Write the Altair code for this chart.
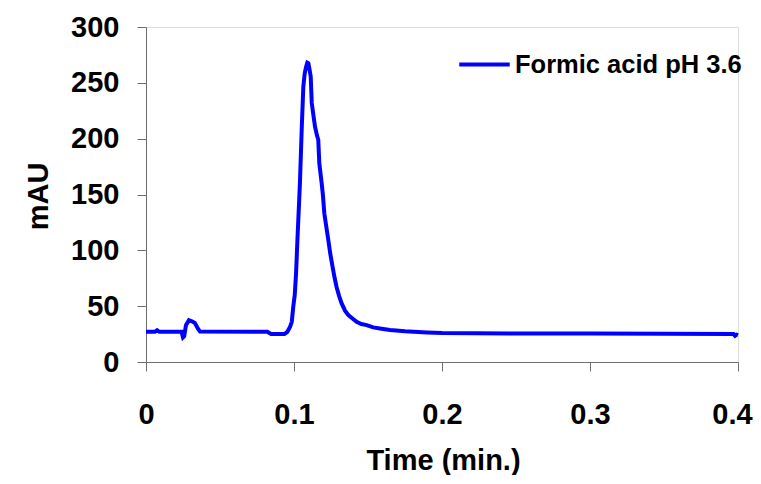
import altair as alt
import pandas as pd

series_name = "Formic acid pH 3.6"

time_min = [0.000, 0.006, 0.0075, 0.009, 0.024, 0.0250, 0.0258, 0.027, 0.029, 0.031,
            0.033, 0.035, 0.0365, 0.082, 0.0845, 0.0935, 0.0955, 0.0973, 0.0985, 0.0995,
            0.1005, 0.1014, 0.1023, 0.1030, 0.1040, 0.1052, 0.1063, 0.1072, 0.1081, 0.1090,
            0.1097, 0.1105, 0.1113, 0.1120, 0.1130, 0.1142, 0.1155, 0.1164, 0.1171, 0.1187,
            0.1195, 0.1205, 0.1215, 0.1232, 0.1245, 0.1261, 0.1275, 0.1288, 0.1305, 0.1322,
            0.1345, 0.1367, 0.1395, 0.1423, 0.1455, 0.1491, 0.1535, 0.1581, 0.1649, 0.175,
            0.19, 0.20, 0.25, 0.30, 0.35, 0.397, 0.398, 0.399, 0.400]
mau = [27, 27, 28.5, 27, 27, 22, 23, 33, 37.5, 36.5,
       35, 30, 27.2, 27, 25, 25, 27, 31.5, 36, 49.5,
       60, 79.6, 109, 130, 160, 208, 246.5, 258, 264, 268,
       267.5, 262, 255.5, 232, 222, 210.7, 203, 199, 178, 160,
       150, 133, 124, 109, 97, 85, 75, 67, 59, 52.5,
       46, 42, 39, 36, 34, 33, 31, 30, 28.7, 27.5,
       26.5, 26, 25.5, 25.5, 25.2, 25, 23.5, 24.5, 24]

x_ticks = [0, 0.1, 0.2, 0.3, 0.4]
y_ticks = [0, 50, 100, 150, 200, 250, 300]

df = pd.DataFrame({"t": time_min, "v": mau, "series": [series_name] * len(time_min)})

FONT = "Liberation Sans"
AXIS_COLOR = "#6e6e6e"

chart = alt.Chart(df).mark_line(strokeWidth=4, interpolate="linear").encode(
    x=alt.X("t:Q",
            scale=alt.Scale(domain=[0, 0.4], nice=False, zero=False),
            axis=alt.Axis(values=x_ticks, title="Time (min.)", grid=False,
                          format="~g", labelFontSize=29, labelFontWeight="bold",
                          labelFont=FONT, labelColor="black",
                          labelBaseline="alphabetic", labelPadding=52,
                          labelOffset={"expr": "datum.value >= 0.4 ? -6 : 0"},
                          tickSize=9, tickColor=AXIS_COLOR, domainColor=AXIS_COLOR,
                          labelFlush=False, labelOverlap=False,
                          titleFont=FONT, titleFontSize=29, titleFontWeight="bold",
                          titleColor="black", titleBaseline="alphabetic",
                          titleX=297, titleY=107, titleAlign="center")),
    y=alt.Y("v:Q",
            scale=alt.Scale(domain=[0, 300], nice=False),
            axis=alt.Axis(values=y_ticks, title="mAU", grid=False,
                          labelFontSize=29, labelFontWeight="bold", labelFont=FONT,
                          labelColor="black", labelPadding=18, tickSize=9,
                          tickColor=AXIS_COLOR, domainColor=AXIS_COLOR,
                          labelFlush=False, labelOverlap=False,
                          titleFont=FONT, titleFontSize=29, titleFontWeight="bold",
                          titleColor="black", titleAngle=-90,
                          titleBaseline="alphabetic", titleAlign="center",
                          titleX=-99, titleY=169)),
    color=alt.Color("series:N",
                    scale=alt.Scale(domain=[series_name], range=["#0000FF"]),
                    legend=alt.Legend(title=None, orient="none", legendX=311, legendY=10,
                                      symbolType="stroke", symbolSize=2550,
                                      symbolStrokeWidth=4, labelFont=FONT,
                                      labelFontSize=25.5, labelFontWeight="bold",
                                      labelColor="black", labelOffset=3, padding=0,
                                      labelLimit=400)),
).properties(
    width=592,
    height=335,
    autosize=alt.AutoSizeParams(type="none"),
    padding={"left": 138, "top": 19, "right": 15, "bottom": 113},
).configure_view(stroke=None).configure(background="white")

chart.save("out.html", embed_options={"renderer": "svg", "actions": False})
